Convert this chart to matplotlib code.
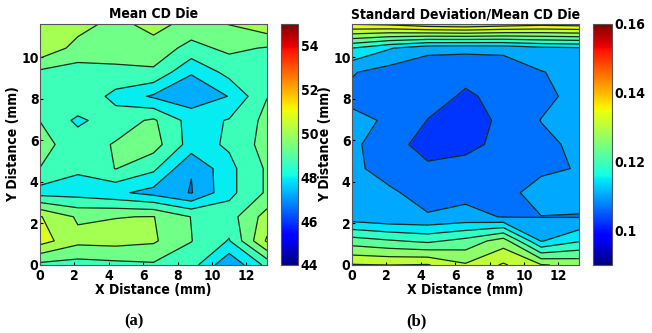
import numpy as np
import matplotlib
matplotlib.use('Agg')
import matplotlib.pyplot as plt
from matplotlib import colors, colorbar

plt.rcParams['font.family'] = ['DejaVu Sans']
plt.rcParams['font.stretch'] = 'condensed'

# die grid (mm)
x_mm = [0, 2.2, 4.4, 6.6, 8.8, 11.0, 13.2]
y_mm = [0, 1.16, 2.32, 3.48, 4.64, 5.8, 6.96, 8.12, 9.28, 10.44, 11.6]

# mean CD per site (rows bottom -> top)
mean_cd = [
    [48.8, 48.7, 48.8, 48.9, 48.6, 47.0, 48.5],
    [50.7, 49.9, 49.95, 49.8, 49.02, 48.25, 50.5],
    [50.45, 49.6, 49.68, 49.72, 48.98, 48.7, 50.0],
    [48.0, 48.0, 47.75, 47.35, 46.86, 48.1, 49.1],
    [48.99, 48.4, 49.02, 48.45, 46.93, 48.1, 49.1],
    [49.2, 48.7, 49.05, 49.3, 48.0, 48.4, 49.3],
    [48.99, 48.15, 48.7, 49.1, 48.0, 48.35, 49.2],
    [48.9, 48.95, 48.05, 47.5, 47.2, 47.62, 48.98],
    [48.85, 48.71, 48.9, 48.9, 47.65, 48.55, 48.8],
    [50.3, 49.43, 49.2, 49.35, 48.8, 49.15, 48.95],
    [50.35, 50.0, 49.45, 50.0, 49.4, 49.72, 50.2],
]

# std / mean per site (rows bottom -> top)
cv_cd = [
    [0.1328, 0.1325, 0.1328, 0.129, 0.133, 0.1288, 0.1275],
    [0.1224, 0.1209, 0.1196, 0.1218, 0.1265, 0.1122, 0.1161],
    [0.1100, 0.1089, 0.1088, 0.1096, 0.1083, 0.1084, 0.1083],
    [0.1095, 0.1090, 0.1072, 0.1075, 0.1068, 0.1106, 0.1100],
    [0.1092, 0.1072, 0.1054, 0.1058, 0.1060, 0.1075, 0.1088],
    [0.1092, 0.1065, 0.1025, 0.1035, 0.1055, 0.1075, 0.1094],
    [0.1095, 0.1080, 0.1044, 0.1025, 0.1054, 0.1086, 0.1100],
    [0.1075, 0.1060, 0.1060, 0.1040, 0.1055, 0.1075, 0.1097],
    [0.1088, 0.1068, 0.1055, 0.1055, 0.1055, 0.1083, 0.1100],
    [0.1165, 0.1128, 0.1098, 0.1095, 0.1098, 0.1115, 0.1120],
    [0.1368, 0.1375, 0.1395, 0.1402, 0.1390, 0.1380, 0.1385],
]

mean_levels = [45.5, 46.2, 46.9, 47.6, 48.3, 49.0, 49.7, 50.4, 51.1]
cv_levels = [0.1005, 0.1045, 0.1085, 0.1125, 0.1165, 0.1205, 0.1245,
             0.1285, 0.1325, 0.1365, 0.1405, 0.1445]
mean_ticks = [44, 46, 48, 50, 52, 54]
cv_ticks = [0.1, 0.12, 0.14, 0.16]
xticks = [0, 2, 4, 6, 8, 10, 12]
yticks = [0, 2, 4, 6, 8, 10]

X, Y = np.meshgrid(x_mm, y_mm)
W, H = 652, 333
fig = plt.figure(figsize=(W / 100, H / 100), dpi=100)


def px_axes(x0, y0, x1, y1):
    return fig.add_axes([x0 / W, 1 - y1 / H, (x1 - x0) / W, (y1 - y0) / H])


def panel(ax, cax, Z, levels, vmin, vmax, ticks, tick_fmt, title):
    norm = colors.Normalize(vmin, vmax)
    ax.contourf(X, Y, np.array(Z), levels=levels, cmap='jet', norm=norm)
    ax.contour(X, Y, np.array(Z), levels=levels, colors='#0f2a1a',
               linewidths=0.9)
    ax.set_xlim(0, 13.2)
    ax.set_ylim(0, 11.6)
    ax.set_xticks(xticks)
    ax.set_yticks(yticks)
    ax.tick_params(direction='in', length=2, labelsize=10)
    ax.tick_params(axis='x', pad=3)
    ax.tick_params(axis='y', pad=1)
    for lab in ax.get_xticklabels() + ax.get_yticklabels():
        lab.set_fontweight('bold')
    for s in ax.spines.values():
        s.set_color('#555555')
    ax.set_xlabel('X Distance (mm)', fontsize=10, fontweight='bold', labelpad=0)
    ax.set_ylabel('Y Distance (mm)', fontsize=10, fontweight='bold', labelpad=1)
    ax.set_title(title, fontsize=10, fontweight='bold', pad=4)

    cb = colorbar.ColorbarBase(cax, cmap=plt.get_cmap('jet'), norm=norm)
    cb.set_ticks(ticks)
    cb.set_ticklabels([tick_fmt(t) for t in ticks])
    cax.tick_params(length=0, labelsize=10, pad=2)
    for lab in cax.get_yticklabels():
        lab.set_fontweight('bold')
    cb.outline.set_edgecolor('#555555')


ax1 = px_axes(40, 24, 267, 265)
cax1 = px_axes(281, 24, 298, 265)
panel(ax1, cax1, mean_cd, mean_levels, 44, 55, mean_ticks,
      lambda t: '%d' % t, 'Mean CD Die')

ax2 = px_axes(352, 24, 579, 265)
cax2 = px_axes(593, 24, 612, 265)
panel(ax2, cax2, cv_cd, cv_levels, 0.09, 0.16, cv_ticks,
      lambda t: ('%.2f' % t).rstrip('0'), 'Standard Deviation/Mean CD Die')

fig.text(134 / W, 1 - 321 / H, '(a)', ha='center', va='center', fontsize=12,
         fontweight='bold', family=['Liberation Serif', 'DejaVu Serif'])
fig.text(416 / W, 1 - 321 / H, '(b)', ha='center', va='center', fontsize=12,
         fontweight='bold', family=['Liberation Serif', 'DejaVu Serif'])

fig.savefig('out.png', dpi=100)
